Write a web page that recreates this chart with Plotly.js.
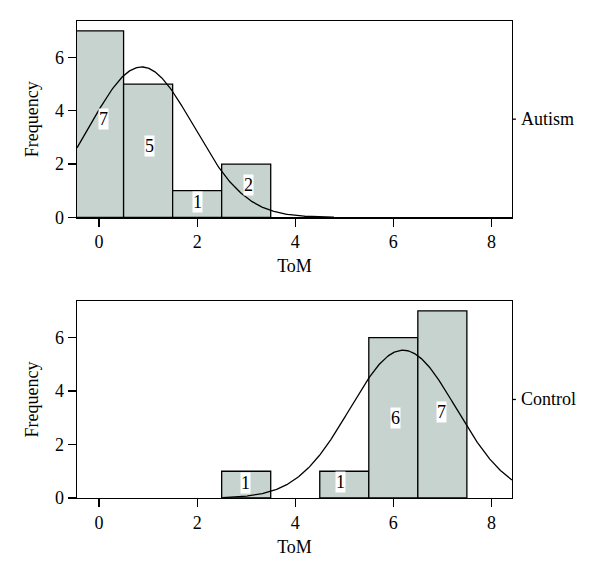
<!DOCTYPE html>
<html>
<head>
<meta charset="utf-8">
<script src="https://cdn.plot.ly/plotly-3.0.1.min.js"></script>
<style>html,body{margin:0;padding:0;background:#fff;}#chart{width:600px;height:577px;}</style>
</head>
<body>
<div id="chart"></div>
<script>
// ---- data ----
const binCenters = [0, 1, 2, 3, 4, 5, 6, 7, 8];
const autismCounts = [7, 5, 1, 2, 0, 0, 0, 0, 0];
const controlCounts = [0, 0, 0, 1, 0, 1, 6, 7, 0];
const groupLabels = ["Autism", "Control"];
const xTicks = [0, 2, 4, 6, 8];
const yTicks = [0, 2, 4, 6];

// ---- label positions (layout only) ----
const autismLabelPos = [[0.1, 3.7], [1.02, 2.67], [2.0, 0.58], [3.05, 1.2]];
const controlLabelPos = [[2.98, 0.56], [4.93, 0.58], [6.05, 3.0], [6.98, 3.22]];

// fitted normal curve derived from the histogram counts
function normalCurve(counts, lo, hi) {
  let n = 0, s = 0, ss = 0;
  counts.forEach((c, i) => { n += c; s += c * binCenters[i]; ss += c * binCenters[i] * binCenters[i]; });
  const mean = s / n;
  const sd = Math.sqrt((ss - n * mean * mean) / (n - 1));
  const xs = [], ys = [];
  const a = Math.max(lo, mean - 3.4 * sd), b = Math.min(hi, mean + 3.7 * sd);
  for (let k = 0; k <= 300; k++) {
    const x = a + (b - a) * k / 300;
    xs.push(x);
    ys.push(n / (sd * Math.sqrt(2 * Math.PI)) * Math.exp(-0.5 * Math.pow((x - mean) / sd, 2)));
  }
  return {xs, ys};
}

const barColor = "#c6d3cf";
const xRange = [-0.45, 8.42];
const yRange = [0, 7.37];

function nonZero(counts) {
  const xs = [], ys = [];
  counts.forEach((c, i) => { if (c > 0) { xs.push(binCenters[i]); ys.push(c); } });
  return {xs, ys};
}

const a = nonZero(autismCounts), c = nonZero(controlCounts);
const ca = normalCurve(autismCounts, xRange[0], xRange[1]);
const cc = normalCurve(controlCounts, xRange[0], xRange[1]);

const traces = [
  {type: "bar", x: a.xs, y: a.ys, width: 1, xaxis: "x", yaxis: "y",
   marker: {color: barColor, line: {color: "#000", width: 1.3}}, hoverinfo: "skip"},
  {type: "scatter", mode: "lines", x: ca.xs, y: ca.ys, xaxis: "x", yaxis: "y",
   line: {color: "#000", width: 1.3}, hoverinfo: "skip"},
  {type: "bar", x: c.xs, y: c.ys, width: 1, xaxis: "x2", yaxis: "y2",
   marker: {color: barColor, line: {color: "#000", width: 1.3}}, hoverinfo: "skip"},
  {type: "scatter", mode: "lines", x: cc.xs, y: cc.ys, xaxis: "x2", yaxis: "y2",
   line: {color: "#000", width: 1.3}, hoverinfo: "skip"}
];

const font = {family: "Liberation Serif, Times New Roman, serif", color: "#000"};
const FS = 18;

function xAxis(anchor) {
  return {anchor: anchor, domain: [0, 1], range: xRange, tickvals: xTicks,
    ticks: "outside", ticklen: 8, tickwidth: 1.3, tickcolor: "#000",
    showline: true, mirror: true, linecolor: "#000", linewidth: 1.3,
    showgrid: false, zeroline: false, tickfont: {...font, size: FS},
    title: {text: "ToM", font: {...font, size: FS}, standoff: 8}};
}
function yAxis(anchor, dom) {
  return {anchor: anchor, domain: dom, range: yRange, tickvals: yTicks,
    ticks: "outside", ticklen: 8, tickwidth: 1.3, tickcolor: "#000",
    showline: true, mirror: true, linecolor: "#000", linewidth: 1.3,
    showgrid: false, zeroline: false, tickfont: {...font, size: FS},
    title: {text: "Frequency", font: {...font, size: FS}, standoff: 11}};
}

const annotations = [];
function addLabels(counts, pos, xr, yr) {
  const vals = counts.filter(v => v > 0);
  vals.forEach((v, i) => {
    annotations.push({x: pos[i][0], y: pos[i][1], xref: xr, yref: yr, text: String(v),
      showarrow: false, bgcolor: "#fff", borderpad: 0, font: {...font, size: FS}});
  });
}
addLabels(autismCounts, autismLabelPos, "x", "y");
addLabels(controlCounts, controlLabelPos, "x2", "y2");

const topDom = [0.5884, 1], botDom = [0, 0.4131];
const groupY = [(topDom[0] + topDom[1]) / 2, (botDom[0] + botDom[1]) / 2];
const shapes = [];
groupLabels.forEach((g, i) => {
  annotations.push({x: 1, y: groupY[i], xref: "paper", yref: "paper", text: g,
    showarrow: false, xanchor: "left", yanchor: "middle", xshift: 7, font: {...font, size: FS}});
  shapes.push({type: "line", xref: "paper", yref: "paper", x0: 1, x1: 1.009, y0: groupY[i], y1: groupY[i],
    line: {color: "#000", width: 1.3}});
});

const layout = {
  width: 600, height: 577,
  margin: {l: 76.7, r: 87.7, t: 20.7, b: 78.7},
  paper_bgcolor: "#fff", plot_bgcolor: "#fff",
  showlegend: false, bargap: 0,
  xaxis: xAxis("y"), yaxis: yAxis("x", topDom),
  xaxis2: xAxis("y2"), yaxis2: yAxis("x2", botDom),
  annotations: annotations, shapes: shapes,
  font: font
};

Plotly.newPlot("chart", traces, layout, {staticPlot: true});
</script>
</body>
</html>
